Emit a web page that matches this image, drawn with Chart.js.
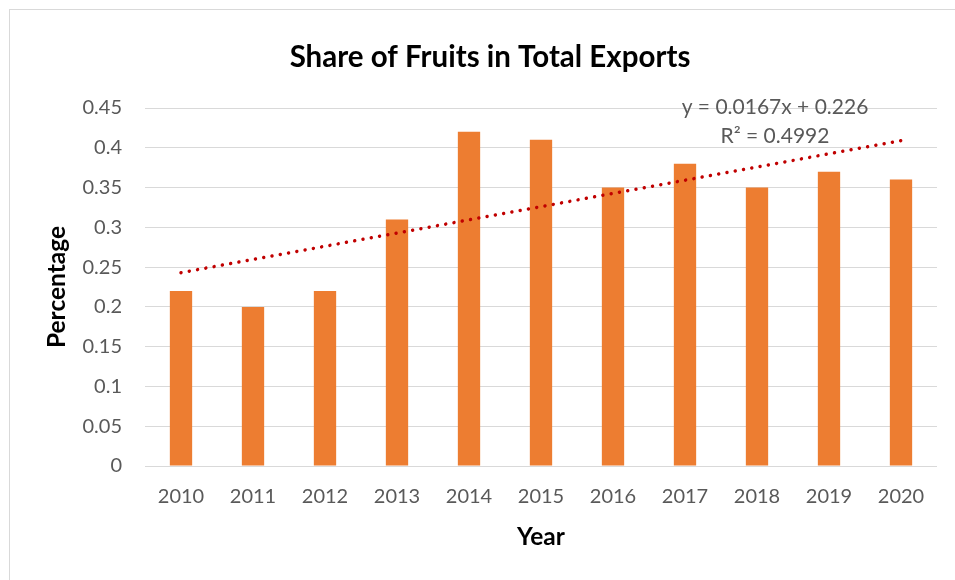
<!DOCTYPE html>
<html>
<head>
<meta charset="utf-8">
<script src="https://cdn.jsdelivr.net/npm/chart.js@4"></script>
<style>
  html, body { margin: 0; padding: 0; background: #fff; }
  body { width: 955px; height: 580px; position: relative; overflow: hidden; }
  /* moldura cinza da área do gráfico (continua além da borda da imagem) */
  #frame { position: absolute; left: 9px; top: 9px; width: 1000px; height: 700px; border: 1px solid #d9d9d9; box-sizing: border-box; }
  #wrap { position: absolute; left: 0; top: 0; width: 955px; height: 580px; }
</style>
</head>
<body>
<div id="frame"></div>
<div id="wrap"><canvas id="chart"></canvas></div>
<script>
// dados
const years = ["2010", "2011", "2012", "2013", "2014", "2015", "2016", "2017", "2018", "2019", "2020"];
const share = [0.22, 0.20, 0.22, 0.31, 0.42, 0.41, 0.35, 0.38, 0.35, 0.37, 0.36];
// linha de tendência: só as pontas
const trend = [0.243, null, null, null, null, null, null, null, null, null, 0.409];
const yTicks = [0, 0.05, 0.1, 0.15, 0.2, 0.25, 0.3, 0.35, 0.4, 0.45];
const chartTitle = "Share of Fruits in Total Exports";
const equationLines = ["y = 0.0167x + 0.226", "R² = 0.4992"];

const FONT = "Lato, Carlito, 'Open Sans', sans-serif";
const GRAY = "#595959";

// título (centrado na moldura, não no canvas) e equação da tendência
const textPlugin = {
  id: "texts",
  afterDatasetsDraw(chart) {
    const { ctx, chartArea } = chart;
    ctx.save();
    ctx.textAlign = "center";
    ctx.textBaseline = "middle";

    ctx.font = "bold 29.5px " + FONT;
    ctx.fillStyle = "#000";
    ctx.fillText(chartTitle, 490, chartArea.top - 51);

    ctx.font = "21px " + FONT;
    ctx.fillStyle = GRAY;
    const cx = chartArea.right - 162;
    equationLines.forEach((t, i) => ctx.fillText(t, cx, chartArea.top - 1 + i * 29));
    ctx.restore();
  }
};

new Chart(document.getElementById("chart"), {
  type: "bar",
  data: {
    labels: years,
    datasets: [
      {
        type: "line",
        label: "Trend",
        data: trend,
        spanGaps: true,
        borderColor: "#C00000",
        borderWidth: 3.5,
        borderDash: [0.01, 8.4],
        borderCapStyle: "round",
        pointRadius: 0,
        fill: false,
        order: 0,
      },
      {
        label: "Share",
        data: share,
        backgroundColor: "#ED7D31",
        barPercentage: 0.31,
        categoryPercentage: 1,
        order: 1,
      },
    ],
  },
  options: {
    responsive: true,
    maintainAspectRatio: false,
    animation: false,
    layout: { padding: { left: 0, right: 18, top: 108, bottom: 0 } },
    plugins: {
      legend: { display: false },
      tooltip: { enabled: false },
      title: { display: false },
    },
    scales: {
      x: {
        grid: { display: false, drawTicks: false },
        border: { display: false },
        ticks: { color: GRAY, font: { family: FONT, size: 20 }, padding: 19, maxRotation: 0 },
        title: {
          display: true,
          text: "Year",
          color: "#000",
          font: { family: FONT, size: 24.5, weight: "bold", lineHeight: 1.2 },
          padding: { top: 0, bottom: 28 },
        },
        afterFit: (axis) => { axis.height = 114; },
      },
      y: {
        min: 0,
        max: 0.45,
        afterBuildTicks: (axis) => { axis.ticks = yTicks.map(v => ({ value: v })); },
        grid: { color: "#d9d9d9", lineWidth: 1, drawTicks: false },
        border: { display: false },
        ticks: { color: GRAY, font: { family: FONT, size: 20 }, padding: 23, callback: (v) => String(v) },
        title: {
          display: true,
          text: "Percentage",
          color: "#000",
          font: { family: FONT, size: 24.5, weight: "bold", lineHeight: 1.2 },
          padding: { top: 42, bottom: 0 },
        },
        afterFit: (axis) => { axis.width = 145; },
      },
    },
  },
  plugins: [textPlugin],
});
</script>
</body>
</html>
